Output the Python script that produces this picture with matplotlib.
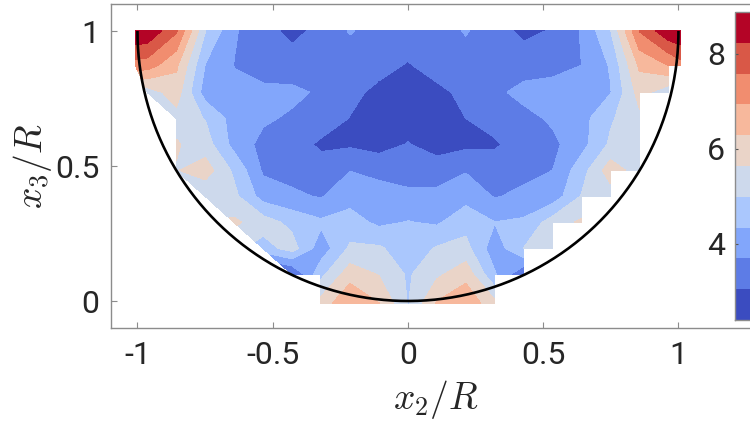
import numpy as np
import matplotlib
matplotlib.use("Agg")
import matplotlib.pyplot as plt
from matplotlib.colors import ListedColormap, BoundaryNorm

plt.rcParams['font.family'] = ['Roboto', 'DejaVu Sans']
plt.rcParams['mathtext.fontset'] = 'cm'

nan = float('nan')
x_half = [0.107, 0.214, 0.321, 0.428, 0.535, 0.642, 0.749, 0.856, 0.963, 1.007]
x_grid = [-v for v in x_half[::-1]] + [0.0] + x_half
y_grid = [-0.0085, 0.099, 0.195, 0.291, 0.388, 0.484, 0.58, 0.677, 0.773, 0.873, 1.0]

# columns: x_grid left to right
row_00 = [nan]*7 + [5.9, 6.9, 6.3, 4.95, 6.35, 6.8, 5.8] + [nan]*7
row_01 = [nan]*6 + [2.95, 4.8, 6.0, 5.6, 4.9, 5.5, 6.05, 4.4, 3.1] + [nan]*6
row_02 = [nan]*5 + [4.7, 5.25, 3.95, 5.1, 5.08, 4.6, 5.05, 5.2, 3.95, 5.0, 5.2] + [nan]*5
row_03 = [nan]*4 + [5.75, 5.3, 4.8, 4.45, 4.6, 4.2, 4.37, 4.25, 4.75, 4.35, 4.45, 5.3, 5.75] + [nan]*4
row_04 = [nan]*3 + [5.1, 5.15, 4.05, 3.8, 3.65, 4.1, 4.0, 3.85, 3.85, 4.1, 3.65, 3.85, 3.95, 5.03, 5.3] + [nan]*3
row_05 = [nan]*2 + [5.6, 5.95, 4.85, 3.6, 3.5, 3.3, 3.68, 3.5, 3.4, 3.4, 3.65, 3.3, 3.5, 3.7, 4.7, 6.0, 5.3] + [nan]*2
row_06 = [nan]*2 + [5.7, 5.3, 4.1, 3.5, 3.3, 2.95, 2.95, 2.8, 3.08, 2.75, 2.9, 2.98, 3.3, 3.55, 4.1, 5.1, 5.6] + [nan]*2
row_07 = [nan]*2 + [5.4, 4.95, 4.05, 3.8, 3.6, 3.35, 3.03, 2.75, 2.75, 2.8, 3.05, 3.25, 3.5, 3.8, 4.1, 4.9, 5.5] + [nan]*2
row_08 = [nan, 5.3, 5.95, 4.0, 3.85, 3.85, 3.85, 3.6, 3.2, 2.9, 2.7, 2.9, 3.2, 3.55, 3.9, 3.95, 3.95, 4.3, 5.9, 5.2, nan]
row_09 = [7.3, 7.25, 6.4, 4.3, 3.68, 3.4, 3.3, 3.3, 3.3, 3.25, 3.0, 3.3, 3.4, 3.4, 3.4, 3.5, 3.7, 4.4, 6.4, 6.95, 7.3]
row_10 = [8.85, 8.75, 7.65, 5.0, 3.77, 3.25, 2.9, 3.2, 3.75, 3.4, 3.4, 3.4, 3.75, 3.3, 2.9, 3.1, 3.75, 4.95, 7.6, 8.7, 8.85]

levels = [2.4, 3.05, 3.70, 4.34, 4.99, 5.64, 6.29, 6.94, 7.58, 8.23, 8.88]
x_ticks = [-1, -0.5, 0, 0.5, 1]
x_tick_labels = ['-1', '-0.5', '0', '0.5', '1']
y_ticks = [0, 0.5, 1]
y_tick_labels = ['0', '0.5', '1']
cbar_ticks = [4, 6, 8]

Z = np.array([row_00, row_01, row_02, row_03, row_04, row_05,
              row_06, row_07, row_08, row_09, row_10])
X = np.array(x_grid)
Y = np.array(y_grid)

W, H = 750, 423
fig = plt.figure(figsize=(W/100, H/100), dpi=100)
ax = fig.add_axes([110.5/W, (H-328)/H, 650/W, 324/H])

cmap = ListedColormap(plt.cm.coolwarm(np.linspace(0, 1, 10)))
norm = BoundaryNorm(levels, cmap.N)

# the upper left of the field has diagonal edges; the right and the lowest row have stairs
cf_left = ax.contourf(X[:11], Y[1:], Z[1:, :11], levels=levels, cmap=cmap, norm=norm, corner_mask=True)
cf_right = ax.contourf(X[9:], Y, Z[:, 9:], levels=levels, cmap=cmap, norm=norm, corner_mask=False)
cf_low = ax.contourf(X[:11], Y[:2], Z[:2, :11], levels=levels, cmap=cmap, norm=norm, corner_mask=False)
for cf in (cf_left, cf_right, cf_low):
    cf.set_edgecolor('face')
    cf.set_linewidth(0.25)

theta = np.linspace(np.pi, 2*np.pi, 300)
ax.plot(np.cos(theta), 1 + np.sin(theta), color='black', lw=1.9, zorder=5, solid_capstyle='butt')

ax.set_xlim(-1.0996, 1.3033)
ax.set_ylim(-0.1, 1.1)
grey = '#8c8c8c'
for s in ax.spines.values():
    s.set_color(grey)
    s.set_linewidth(1.0)
ax.set_xticks(x_ticks, x_tick_labels)
ax.set_yticks(y_ticks, y_tick_labels)
ax.tick_params(axis='both', direction='in', length=4.5, width=0.8, color=grey,
               labelsize=23, labelcolor='#262626', top=True, right=True)
ax.tick_params(axis='x', pad=9)
ax.tick_params(axis='y', pad=8)
ax.set_xlabel(r'$x_2/R$', fontsize=27, color='#262626', labelpad=6)
ax.set_ylabel(r'$x_3/R$', fontsize=27, color='#262626', labelpad=1)

cax = fig.add_axes([735/W, (H-320)/H, 30/W, 308/H])
cb = fig.colorbar(cf_left, cax=cax, ticks=cbar_ticks, spacing='proportional')
cb.ax.yaxis.set_ticks_position('left')
cb.ax.tick_params(direction='in', length=2.5, width=0.8, color='#555555',
                  labelsize=23, labelcolor='#262626', pad=7)
cb.ax.minorticks_off()
cb.outline.set_edgecolor(grey)
cb.outline.set_linewidth(1.0)

fig.savefig('out.png', dpi=100)
